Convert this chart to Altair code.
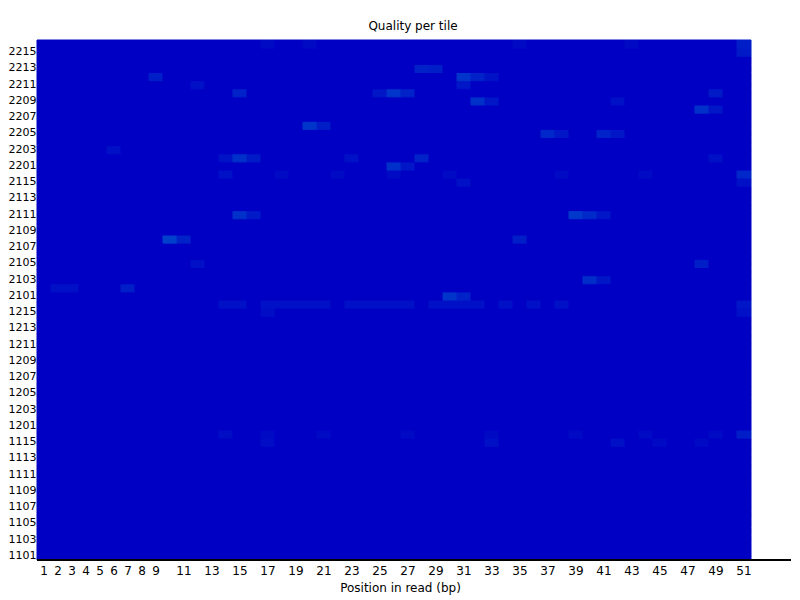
import altair as alt
import pandas as pd

# Tiles (bottom to top) and read positions
tiles = ([1101, 1102, 1103, 1104, 1105, 1106, 1107, 1108, 1109, 1110, 1111, 1112, 1113, 1114, 1115, 1116]
         + [1201, 1202, 1203, 1204, 1205, 1206, 1207, 1208, 1209, 1210, 1211, 1212, 1213, 1214, 1215, 1216]
         + [2101, 2102, 2103, 2104, 2105, 2106, 2107, 2108, 2109, 2110, 2111, 2112, 2113, 2114, 2115, 2116]
         + [2201, 2202, 2203, 2204, 2205, 2206, 2207, 2208, 2209, 2210, 2211, 2212, 2213, 2214, 2215, 2216])
positions = list(range(1, 52))

# Tick labels
x_tick_labels = [1, 2, 3, 4, 5, 6, 7, 8, 9, 11, 13, 15, 17, 19, 21, 23, 25, 27, 29, 31,
                 33, 35, 37, 39, 41, 43, 45, 47, 49, 51]
y_tick_labels = [1101, 1103, 1105, 1107, 1109, 1111, 1113, 1115,
                 1201, 1203, 1205, 1207, 1209, 1211, 1213, 1215,
                 2101, 2103, 2105, 2107, 2109, 2111, 2113, 2115,
                 2201, 2203, 2205, 2207, 2209, 2211, 2213, 2215]

# Cells that deviate from the mean quality (tile, position, deviation); all others are 0
dev_tile = [2216, 2216, 2216, 2216, 2216, 2215,
            2213, 2213,
            2212, 2212, 2212, 2212,
            2211, 2211,
            2210, 2210, 2210, 2210, 2210,
            2209, 2209, 2209,
            2208, 2208,
            2206, 2206,
            2205, 2205, 2205, 2205,
            2203,
            2202, 2202, 2202, 2202, 2202, 2202,
            2201, 2201,
            2116, 2116, 2116, 2116, 2116, 2116, 2116, 2116,
            2115, 2115,
            2111, 2111, 2111, 2111, 2111,
            2108, 2108, 2108,
            2105, 2105,
            2103, 2103,
            2102, 2102, 2102,
            2101, 2101,
            1216, 1216, 1216, 1216, 1216, 1216, 1216, 1216, 1216, 1216, 1216, 1216,
            1216, 1216, 1216, 1216, 1216, 1216, 1216, 1216,
            1215, 1215,
            1116, 1116, 1116, 1116, 1116, 1116, 1116, 1116, 1116,
            1115, 1115, 1115, 1115, 1115]
dev_pos = [17, 20, 35, 43, 51, 51,
           28, 29,
           9, 31, 32, 33,
           12, 31,
           15, 25, 26, 27, 49,
           32, 33, 42,
           48, 49,
           20, 21,
           37, 38, 41, 42,
           6,
           14, 15, 16, 23, 28, 49,
           26, 27,
           14, 18, 22, 26, 30, 38, 44, 51,
           31, 51,
           15, 16, 39, 40, 41,
           10, 11, 35,
           12, 48,
           40, 41,
           2, 3, 7,
           30, 31,
           14, 15, 17, 18, 19, 20, 21, 23, 24, 25, 26, 27,
           29, 30, 31, 32, 34, 36, 38, 51,
           17, 51,
           14, 17, 21, 27, 33, 39, 44, 49, 51,
           17, 33, 42, 45, 48]
dev_val = [0.3, 0.3, 0.3, 0.3, 1.2, 1.0,
           1.5, 1.2,
           1.2, 3.0, 1.5, 0.6,
           0.5, 0.8,
           1.5, 0.8, 3.0, 1.5, 1.0,
           2.5, 0.8, 0.5,
           2.5, 0.8,
           3.0, 1.2,
           1.8, 0.8, 1.5, 0.8,
           0.5,
           0.6, 2.5, 1.0, 0.5, 1.5, 0.5,
           2.5, 0.8,
           0.5, 0.3, 0.3, 0.3, 0.3, 0.3, 0.3, 1.8,
           0.5, 0.5,
           2.5, 1.0, 3.2, 2.0, 0.8,
           4.0, 1.5, 1.2,
           0.5, 1.2,
           2.2, 0.8,
           0.5, 0.5, 1.2,
           3.0, 1.5,
           0.5, 0.5, 0.5, 0.5, 0.5, 0.5, 0.5, 0.5, 0.5, 0.5, 0.5, 0.5,
           0.5, 0.5, 0.5, 0.5, 0.5, 0.5, 0.5, 0.8,
           0.4, 0.5,
           0.4, 0.3, 0.3, 0.3, 0.3, 0.3, 0.3, 0.3, 1.2,
           0.4, 0.5, 0.5, 0.3, 0.3]

dev = {(t, p): v for t, p, v in zip(dev_tile, dev_pos, dev_val)}
rows = [{"tile": t, "pos": p, "dev": dev.get((t, p), 0.0)} for t in tiles for p in positions]
df = pd.DataFrame(rows)

font = "DejaVu Sans"
base_blue = "#0000c4"
color_scale = alt.Scale(domain=[0, 4], range=[base_blue, "#0040cc"], clamp=True)

heat = alt.Chart(df).mark_rect(strokeWidth=1).encode(
    x=alt.X("pos:O",
            scale=alt.Scale(domain=positions, paddingInner=0, paddingOuter=0),
            axis=alt.Axis(values=x_tick_labels, labelAngle=0, ticks=False, domain=False,
                          labelPadding=5, labelFont=font, labelFontSize=12, labelColor="black",
                          title="Position in read (bp)", titleFont=font, titleFontSize=12,
                          titleFontWeight="normal", titleColor="black", titlePadding=6,
                          titleX=363, grid=False)),
    y=alt.Y("tile:O",
            scale=alt.Scale(domain=list(reversed(tiles)), paddingInner=0, paddingOuter=0),
            axis=alt.Axis(values=y_tick_labels, ticks=False, domain=False, labelPadding=1,
                          labelFont=font, labelFontSize=11, labelColor="black",
                          title=None, grid=False)),
    color=alt.Color("dev:Q", scale=color_scale, legend=None),
    stroke=alt.Stroke("dev:Q", scale=color_scale, legend=None),
)

axis_line = alt.Chart(df).mark_rule(color="black", strokeWidth=1, clip=False).encode(
    x=alt.value(0), x2=alt.value(754), y=alt.value(520)
)

chart = alt.layer(heat, axis_line).properties(
    width=714,
    height=520,
    title=alt.TitleParams("Quality per tile", font=font, fontSize=12, fontWeight="normal",
                          color="black", offset=7, dx=19),
    autosize=alt.AutoSizeParams(type="none"),
    padding={"left": 29, "top": 32, "right": 41, "bottom": 38},
).configure_view(stroke=None, fill=base_blue)

chart.save("out.html", embed_options={"renderer": "svg", "actions": False})
